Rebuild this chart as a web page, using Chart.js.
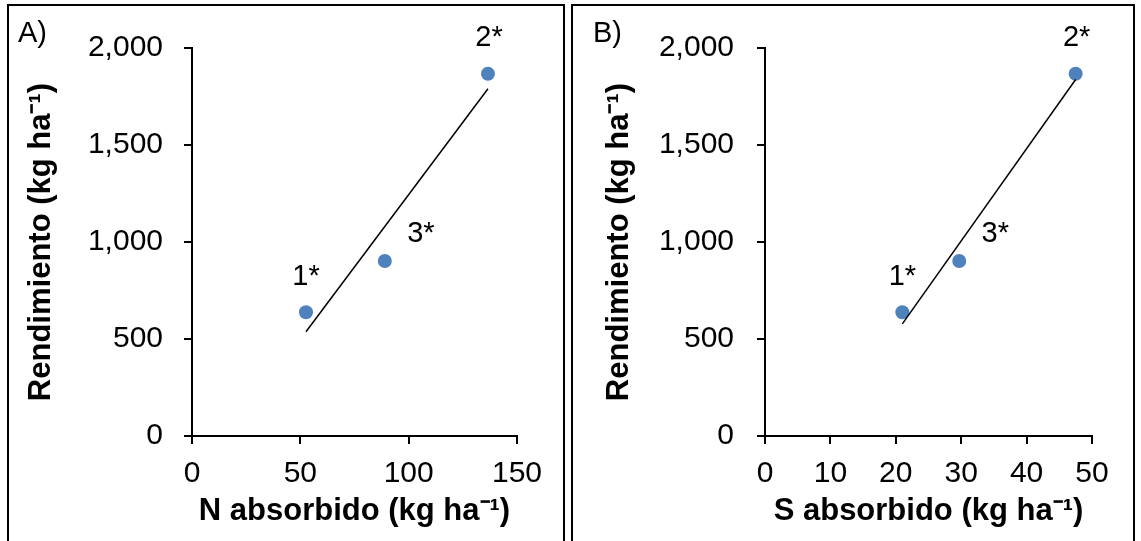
<!DOCTYPE html>
<html lang="es">
<head>
<meta charset="utf-8">
<title>Rendimiento vs N y S absorbido</title>
<script src="https://cdn.jsdelivr.net/npm/chart.js@4.4.1/dist/chart.umd.min.js"></script>
<style>
    html, body {
        margin: 0;
        padding: 0;
        background: #FFFFFF;
        width: 1141px;
        height: 541px;
        overflow: hidden;
        position: relative;
    }
    .panel {
        position: absolute;
        top: 4px;
        height: 560px;
        box-sizing: border-box;
        border: 2px solid #000000;
    }
    .chart-box {
        position: absolute;
        top: 6px;
        height: 535px;
    }
</style>
</head>
<body>
<div class="panel" style="left: 7px; width: 558px;"></div>
<div class="panel" style="left: 571px; width: 564px;"></div>
<div class="chart-box" style="left: 9px; width: 554px;"><canvas id="chartN"></canvas></div>
<div class="chart-box" style="left: 573px; width: 560px;"><canvas id="chartS"></canvas></div>

<script>
// Tratamientos (etiquetas de los puntos)
const treatments = ['1*', '2*', '3*'];

// Rendimiento (kg ha-1)
const yieldKg = [638, 1867, 902];

// Nutriente absorbido (kg ha-1)
const nUptake = [52.6, 136.6, 89.0];
const sUptake = [21.0, 47.5, 29.7];

// Ticks
const yTicks = [0, 500, 1000, 1500, 2000];
const nTicks = [0, 50, 100, 150];
const sTicks = [0, 10, 20, 30, 40, 50];

const fontFamily = '"Liberation Sans", Arial, sans-serif';
const pointColor = '#4F81BD';

// Linear trendline (least squares), drawn between min and max x
function trendline(xs, ys) {
    const n = xs.length;
    const mx = xs.reduce((a, b) => a + b, 0) / n;
    const my = ys.reduce((a, b) => a + b, 0) / n;
    let sxy = 0, sxx = 0;
    for (let i = 0; i < n; i++) {
        sxy += (xs[i] - mx) * (ys[i] - my);
        sxx += (xs[i] - mx) * (xs[i] - mx);
    }
    const slope = sxy / sxx;
    const icpt = my - slope * mx;
    const x0 = Math.min(...xs);
    const x1 = Math.max(...xs);
    return [{ x: x0, y: icpt + slope * x0 }, { x: x1, y: icpt + slope * x1 }];
}

// Draws the treatment labels next to each point plus the panel letter
const labelPlugin = {
    id: 'pointLabels',
    afterDatasetsDraw(chart, args, opts) {
        const ctx = chart.ctx;
        const meta = chart.getDatasetMeta(1);
        ctx.save();
        ctx.fillStyle = '#000000';
        ctx.font = '29px ' + fontFamily;
        ctx.textAlign = 'center';
        ctx.textBaseline = 'middle';
        meta.data.forEach((pt, i) => {
            const off = opts.offsets[i];
            ctx.fillText(treatments[i], pt.x + off[0], pt.y + off[1]);
        });
        ctx.textAlign = 'left';
        ctx.fillText(opts.letter, opts.letterX, opts.letterY);
        ctx.restore();
    }
};

function makeChart(canvasId, xs, xTicks, xTitle, cfg) {
    const ctx = document.getElementById(canvasId).getContext('2d');
    const pts = xs.map((x, i) => ({ x: x, y: yieldKg[i] }));

    const axisGrid = {
        display: true,
        drawOnChartArea: false,
        drawTicks: true,
        tickLength: 8,
        color: '#000000',
        lineWidth: 2
    };
    const axisBorder = { display: true, color: '#000000', width: 2 };

    return new Chart(ctx, {
        type: 'scatter',
        data: {
            datasets: [{
                type: 'line',
                label: 'Tendencia',
                data: trendline(xs, yieldKg),
                borderColor: '#000000',
                borderWidth: 1.5,
                pointRadius: 0,
                fill: false,
                tension: 0
            }, {
                label: 'Rendimiento',
                data: pts,
                backgroundColor: pointColor,
                borderColor: pointColor,
                borderWidth: 0,
                pointRadius: 7,
                pointHoverRadius: 7
            }]
        },
        options: {
            responsive: true,
            maintainAspectRatio: false,
            animation: false,
            events: [],
            layout: {
                padding: { left: 0, top: 42, right: cfg.padRight, bottom: 0 }
            },
            plugins: {
                legend: { display: false },
                tooltip: { enabled: false },
                pointLabels: {
                    offsets: [[0, -35], [1, -36], [36, -27]],
                    letter: cfg.letter,
                    letterX: cfg.letterX,
                    letterY: 28
                }
            },
            scales: {
                x: {
                    type: 'linear',
                    position: 'bottom',
                    min: xTicks[0],
                    max: xTicks[xTicks.length - 1],
                    grid: axisGrid,
                    border: axisBorder,
                    ticks: {
                        stepSize: xTicks[1] - xTicks[0],
                        color: '#000000',
                        padding: 12,
                        maxRotation: 0,
                        font: { family: fontFamily, size: 30 }
                    },
                    title: {
                        display: true,
                        text: xTitle,
                        color: '#000000',
                        padding: { top: 0, bottom: 11 },
                        font: { family: fontFamily, size: 31, weight: 'bold' }
                    },
                    afterFit: function (scale) {
                        scale.height = 105;
                    }
                },
                y: {
                    type: 'linear',
                    min: yTicks[0],
                    max: yTicks[yTicks.length - 1],
                    grid: axisGrid,
                    border: axisBorder,
                    ticks: {
                        stepSize: yTicks[1] - yTicks[0],
                        color: '#000000',
                        padding: cfg.yTickPad,
                        font: { family: fontFamily, size: 30 },
                        callback: function (value) {
                            return value.toLocaleString('en-US');
                        }
                    },
                    title: {
                        display: true,
                        text: 'Rendimiento (kg ha\u207B\u00B9)',
                        color: '#000000',
                        padding: { top: cfg.yTitlePad, bottom: 0 },
                        font: { family: fontFamily, size: 31, weight: 'bold' }
                    },
                    afterFit: function (scale) {
                        scale.width = cfg.yWidth;
                    }
                }
            }
        },
        plugins: [labelPlugin]
    });
}

makeChart('chartN', nUptake, nTicks, 'N absorbido (kg ha\u207B\u00B9)', {
    yWidth: 183, padRight: 46, yTickPad: 21, yTitlePad: 14, letter: 'A)', letterX: 9
});
makeChart('chartS', sUptake, sTicks, 'S absorbido (kg ha\u207B\u00B9)', {
    yWidth: 192, padRight: 41, yTickPad: 23, yTitlePad: 28, letter: 'B)', letterX: 20
});
</script>
</body>
</html>
